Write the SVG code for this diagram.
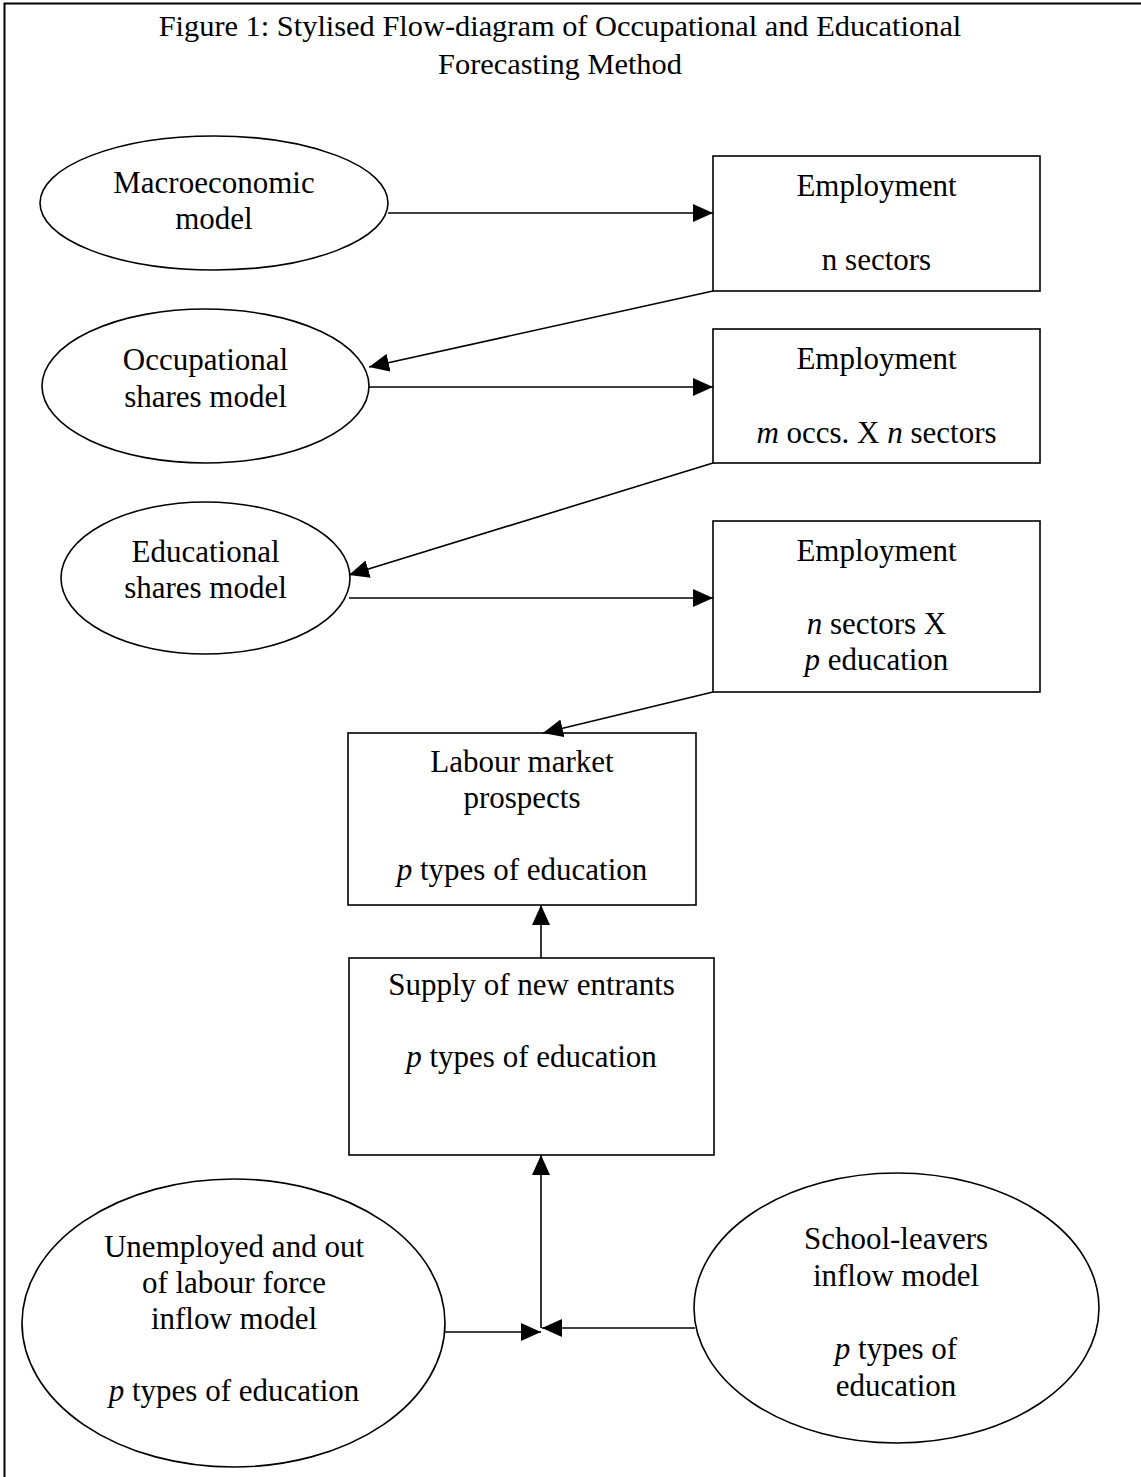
<svg xmlns="http://www.w3.org/2000/svg" width="1141" height="1477" viewBox="0 0 1141 1477">
<style>
text{font-family:"Liberation Serif","Times New Roman",serif;font-size:31px;fill:#000;text-anchor:middle}
.title{font-size:30.4px}
.shape{fill:#fff;stroke:#000;stroke-width:1.6}
.conn{fill:none;stroke:#000;stroke-width:1.6}
.frame{fill:none;stroke:#000;stroke-width:2}
tspan.i{font-style:italic}
</style>
<defs>
<marker id="arr" markerUnits="userSpaceOnUse" markerWidth="20" markerHeight="18" refX="20" refY="9" orient="auto">
<path d="M0,0 L20,9 L0,18 z" fill="#000"/>
</marker>
</defs>
<rect width="1141" height="1477" fill="#fff"/>
<path class="frame" d="M4.5,1477 V3.5 H1141"/>
<g id="title">
<text class="title" x="560" y="36">Figure 1: Stylised Flow-diagram of Occupational and Educational</text>
<text class="title" x="560" y="74">Forecasting Method</text>
</g>
<g id="macro">
<ellipse class="shape" cx="214" cy="203" rx="174" ry="67"/>
<text x="214" y="193">Macroeconomic</text>
<text x="214" y="229">model</text>
</g>
<g id="emp1">
<rect class="shape" x="713" y="156" width="327" height="135"/>
<text x="876.5" y="196">Employment</text>
<text x="876.5" y="270">n sectors</text>
</g>
<g id="occ">
<ellipse class="shape" cx="205.5" cy="386" rx="163.5" ry="77"/>
<text x="205.5" y="370">Occupational</text>
<text x="205.5" y="407">shares model</text>
</g>
<g id="emp2">
<rect class="shape" x="713" y="329" width="327" height="134"/>
<text x="876.5" y="369">Employment</text>
<text x="876.5" y="443"><tspan class="i">m</tspan> occs. X <tspan class="i">n</tspan> sectors</text>
</g>
<g id="edu">
<ellipse class="shape" cx="205.5" cy="578" rx="144.5" ry="76"/>
<text x="205.5" y="562">Educational</text>
<text x="205.5" y="598">shares model</text>
</g>
<g id="emp3">
<rect class="shape" x="713" y="521" width="327" height="171"/>
<text x="876.5" y="561">Employment</text>
<text x="876.5" y="634"><tspan class="i">n</tspan> sectors X</text>
<text x="876.5" y="670"><tspan class="i">p</tspan> education</text>
</g>
<g id="labour">
<rect class="shape" x="348" y="733" width="348" height="172"/>
<text x="522" y="772">Labour market</text>
<text x="522" y="808">prospects</text>
<text x="522" y="880"><tspan class="i">p</tspan> types of education</text>
</g>
<g id="supply">
<rect class="shape" x="349" y="958" width="365" height="197"/>
<text x="531.5" y="995">Supply of new entrants</text>
<text x="531.5" y="1067"><tspan class="i">p</tspan> types of education</text>
</g>
<g id="unemployed">
<ellipse class="shape" cx="233.5" cy="1323" rx="211.5" ry="144"/>
<text x="234" y="1257">Unemployed and out</text>
<text x="234" y="1293">of labour force</text>
<text x="234" y="1329">inflow model</text>
<text x="234" y="1401"><tspan class="i">p</tspan> types of education</text>
</g>
<g id="school">
<ellipse class="shape" cx="896.5" cy="1308" rx="202.5" ry="135"/>
<text x="896" y="1249">School-leavers</text>
<text x="896" y="1286">inflow model</text>
<text x="896" y="1359"><tspan class="i">p</tspan> types of</text>
<text x="896" y="1396">education</text>
</g>
<g id="connectors">
<line class="conn" x1="388" y1="213" x2="713" y2="213" marker-end="url(#arr)"/>
<line class="conn" x1="713" y1="291" x2="369" y2="367" marker-end="url(#arr)"/>
<line class="conn" x1="369" y1="387" x2="713" y2="387" marker-end="url(#arr)"/>
<line class="conn" x1="713" y1="463" x2="349" y2="575" marker-end="url(#arr)"/>
<line class="conn" x1="349" y1="598" x2="713" y2="598" marker-end="url(#arr)"/>
<line class="conn" x1="713" y1="692" x2="543" y2="733" marker-end="url(#arr)"/>
<line class="conn" x1="541" y1="958" x2="541" y2="905" marker-end="url(#arr)"/>
<line class="conn" x1="541" y1="1328" x2="541" y2="1155" marker-end="url(#arr)"/>
<line class="conn" x1="445" y1="1332" x2="541" y2="1332" marker-end="url(#arr)"/>
<line class="conn" x1="695" y1="1328" x2="542" y2="1328" marker-end="url(#arr)"/>
</g>
</svg>
